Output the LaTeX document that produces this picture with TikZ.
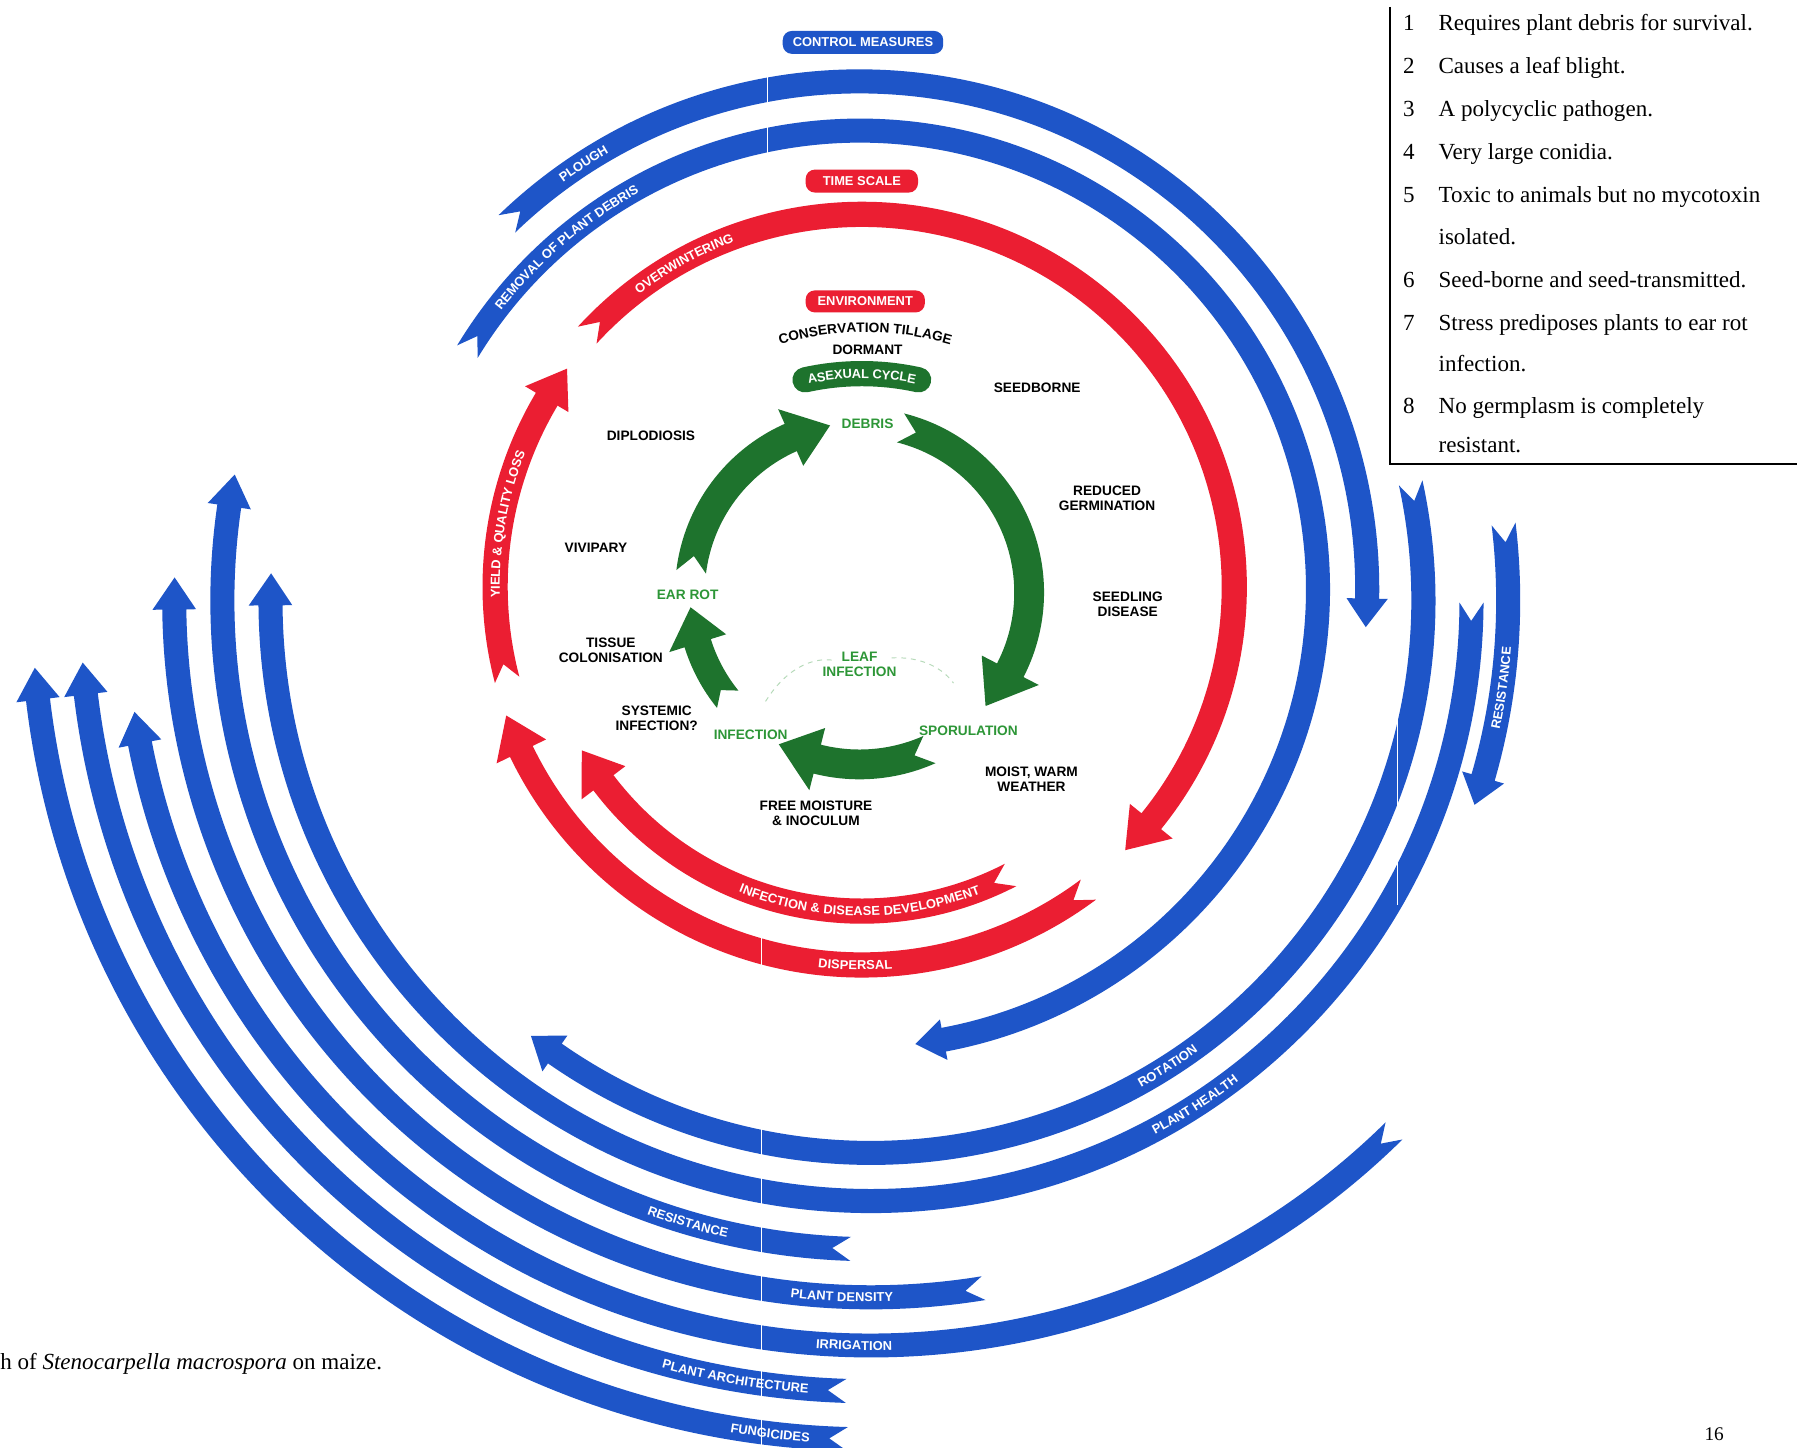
\documentclass[tikz,border=0pt]{standalone}
\usepackage{fontspec}
\setmainfont{Liberation Serif}
\newfontfamily\labfont{Liberation Sans}
\usetikzlibrary{decorations.text}
\definecolor{bblue}{RGB}{30,85,200}
\definecolor{rred}{RGB}{235,30,50}
\definecolor{ggreen}{RGB}{30,115,45}
\definecolor{gtext}{RGB}{45,150,55}
\newcommand{\bandfont}{\labfont\bfseries\fontsize{8}{8}\selectfont\color{white}}
% #1 colour, #2 centre, #3 radius, #4 width, #5 tail angle, #6 head angle, #7 head length, #8 head half-width, #9 notch depth
\newcommand{\Ribbon}[9]{%
 \pgfmathsetmacro{\RBs}{(#6>#5)?1:-1}%
 \pgfmathsetmacro{\RBhb}{#6-\RBs*#7/#3*57.29578}%
 \pgfmathsetmacro{\RBnt}{#5+\RBs*#9/#3*57.29578}%
 \pgfmathsetmacro{\RBo}{#3+#4/2}%
 \pgfmathsetmacro{\RBi}{#3-#4/2}%
 \pgfmathsetmacro{\RBho}{#3+#8}%
 \pgfmathsetmacro{\RBhi}{#3-#8}%
 \fill[#1, shift={(#2)}] (#5:\RBo) arc[start angle=#5, end angle=\RBhb, radius=\RBo]
   -- (\RBhb:\RBho) -- (#6:#3) -- (\RBhb:\RBhi) -- (\RBhb:\RBi)
   arc[start angle=\RBhb, end angle=#5, radius=\RBi] -- (\RBnt:#3) -- cycle;%
}
% #1 centre, #2 radius, #3 mid angle, #4 half span, #5 direction, #6 text
\newcommand{\BandText}[6]{%
 \pgfmathsetmacro{\BTa}{#3-#5*#4}%
 \pgfmathsetmacro{\BTb}{#3+#5*#4}%
 \path[shift={(#1)}, decorate, decoration={text along path, text align=center, raise=-2.9pt, text={|\bandfont|#6}}]
   (\BTa:#2) arc[start angle=\BTa, end angle=\BTb, radius=#2];%
}
\begin{document}
\begin{tikzpicture}[x=0.025cm, y=0.025cm,
  lbl/.style={font=\labfont\bfseries\fontsize{8.5}{9.3}\selectfont, align=center, inner sep=0pt},
  glbl/.style={lbl, text=gtext},
  tagbox/.style={rounded corners=0.2cm, font=\labfont\bfseries\fontsize{8}{8}\selectfont, text=white, minimum height=0.5cm, inner xsep=0.2cm, inner ysep=0pt},
  legtxt/.style={font=\fontsize{14.3}{16}\selectfont, anchor=base west, inner sep=0pt},
  seam/.style={white, line width=0.5pt}]
\useasboundingbox (0,0) rectangle (1568,-1263);
\fill[white] (0,0) rectangle (1568,-1263);

% ---------- blue ribbons (control measures) ----------
\Ribbon{bblue}{750,-514}{400}{21}{148.8}{-83}{25}{18}{16}
\Ribbon{bblue}{750,-514}{443}{21}{134}{-4.3}{25}{18}{16}
\Ribbon{bblue}{760,-524}{482}{21}{12.3}{-128}{26}{19}{16}
\Ribbon{bblue}{760,-524}{524}{21}{-0.2}{-182.6}{28}{19}{16}
\Ribbon{bblue}{760,-524}{556}{21}{6.9}{-18.7}{25}{19}{16}
\Ribbon{bblue}{760,-524}{566}{21}{-91.8}{-191.2}{28}{19}{16}
\Ribbon{bblue}{760,-524}{608}{21}{-80.7}{-181.9}{28}{19}{16}
\Ribbon{bblue}{760,-524}{650}{21}{-45.4}{-171.4}{28}{19}{16}
\Ribbon{bblue}{760,-524}{690}{21}{-91.8}{-175.5}{28}{19}{16}
\Ribbon{bblue}{760,-524}{732}{21}{-91.6}{-175.4}{28}{19}{16}

% ---------- red ribbons (time scale) ----------
\Ribbon{rred}{752,-512}{325}{22}{137.5}{-45}{34}{24}{16}
\Ribbon{rred}{752,-512}{320}{22}{194.7}{143.5}{32}{22}{14}
\Ribbon{rred}{752,-512}{283}{22}{-62.7}{-149.7}{34}{24}{16}
\Ribbon{rred}{752,-512}{330}{22}{-53.2}{-160.1}{34}{24}{16}

% printing seams
\draw[seam] (670,-55) -- (670,-150);
\draw[seam] (664,-800) -- (664,-1263);
\draw[seam] (1219,-545) -- (1219,-790);

% ---------- texts on the ribbons ----------
\BandText{750,-514}{443}{123}{15}{-1}{PLOUGH}
\BandText{750,-514}{400}{130.6}{18}{-1}{REMOVAL OF PLANT DEBRIS}
\BandText{760,-524}{482}{-57.5}{10}{1}{ROTATION}
\BandText{760,-524}{524}{-57.3}{10}{1}{PLANT HEALTH}
\BandText{760,-524}{556}{-7.9}{8}{1}{RESISTANCE}
\BandText{760,-524}{566}{-106.4}{10}{1}{RESISTANCE}
\BandText{760,-524}{608}{-92.4}{10}{1}{PLANT DENSITY}
\BandText{760,-524}{650}{-91.3}{8}{1}{IRRIGATION}
\BandText{760,-524}{690}{-99.9}{10}{1}{PLANT ARCHITECTURE}
\BandText{760,-524}{732}{-96.9}{7}{1}{FUNGICIDES}

\BandText{752,-512}{325}{118.8}{14}{-1}{OVERWINTERING}
\BandText{752,-512}{320}{170}{16}{-1}{YIELD {\&} QUALITY LOSS}
\BandText{752,-512}{283}{-90.4}{28}{1}{INFECTION {\&} DISEASE DEVELOPMENT}
\BandText{752,-512}{330}{-91}{8}{1}{DISPERSAL}

% ---------- green ribbons (asexual cycle) ----------
\Ribbon{ggreen}{750,-517}{148}{26}{173}{100}{36}{27}{14}
\Ribbon{ggreen}{750,-517}{148}{26}{76}{-42}{38}{28}{14}
\Ribbon{ggreen}{750,-517}{150}{26}{-66}{-118}{36}{28}{14}
\Ribbon{ggreen}{750,-517}{148}{24}{-141}{-175}{32}{26}{10}

% faint leaf infection path
\draw[gtext!35, dashed, line width=0.6pt] (668,-612) .. controls (688,-580) and (712,-574) .. (726,-576);
\draw[gtext!35, dashed, line width=0.6pt] (778,-574) .. controls (800,-573) and (820,-580) .. (832,-596);

% ---------- tags ----------
\node[tagbox, fill=bblue, minimum width=3.5cm] (cm) at (753,-37) {CONTROL MEASURES};
\node[tagbox, fill=rred, minimum width=2.45cm] (ts) at (752,-158) {TIME SCALE};
\node[tagbox, fill=rred, minimum width=2.6cm, minimum height=0.48cm] (env) at (755,-263) {ENVIRONMENT};
\draw[ggreen, line width=0.55cm, line cap=round] (752,-555) ++(102.5:229) arc[start angle=102.5, end angle=77.5, radius=229];
\path[decorate, decoration={text along path, text align=center, raise=-2.9pt, text={|\bandfont|ASEXUAL CYCLE}}]
  (752,-555) ++(106:229) arc[start angle=106, end angle=74, radius=229];
\path[decorate, decoration={text along path, text align=center, text={|\labfont\bfseries\fontsize{8.5}{8.5}\selectfont|CONSERVATION TILLAGE}}]
  (755,-555) ++(108:265) arc[start angle=108, end angle=72, radius=265];

% ---------- labels ----------
\node[lbl] (dormant) at (757,-305) {DORMANT};
\node[glbl] (debris) at (757,-370) {DEBRIS};
\node[lbl] (seedborne) at (905,-338) {SEEDBORNE};
\node[lbl] (diplo) at (568,-380) {DIPLODIOSIS};
\node[lbl] (reduced) at (966,-435) {REDUCED\\GERMINATION};
\node[lbl] (vivi) at (520,-478) {VIVIPARY};
\node[lbl] (seedling) at (984,-527) {SEEDLING\\DISEASE};
\node[glbl] (earrot) at (600,-519) {EAR ROT};
\node[lbl] (tissue) at (533,-567) {TISSUE\\COLONISATION};
\node[glbl] (leaf) at (750,-580) {LEAF\\INFECTION};
\node[lbl] (systemic) at (573,-627) {SYSTEMIC\\INFECTION?};
\node[glbl] (infection) at (655,-641) {INFECTION};
\node[glbl] (sporu) at (845,-638) {SPORULATION};
\node[lbl] (moist) at (900,-680) {MOIST, WARM\\WEATHER};
\node[lbl] (free) at (712,-710) {FREE MOISTURE\\\& INOCULUM};

% ---------- legend ----------
\draw[line width=1.2pt] (1213,-6) -- (1213,-405) -- (1568,-405);
\node[legtxt] (n1) at (1224,-27) {1};
\node[legtxt] (t1) at (1255,-27) {Requires plant debris for survival.};
\node[legtxt] (n2) at (1224,-64) {2};
\node[legtxt] (t2) at (1255,-64) {Causes a leaf blight.};
\node[legtxt] (n3) at (1224,-102) {3};
\node[legtxt] (t3) at (1255,-102) {A polycyclic pathogen.};
\node[legtxt] (n4) at (1224,-139) {4};
\node[legtxt] (t4) at (1255,-139) {Very large conidia.};
\node[legtxt] (n5) at (1224,-177) {5};
\node[legtxt] (t5) at (1255,-177) {Toxic to animals but no mycotoxin};
\node[legtxt] (t5b) at (1255,-213) {isolated.};
\node[legtxt] (n6) at (1224,-251) {6};
\node[legtxt] (t6) at (1255,-251) {Seed-borne and seed-transmitted.};
\node[legtxt] (n7) at (1224,-288) {7};
\node[legtxt] (t7) at (1255,-288) {Stress prediposes plants to ear rot};
\node[legtxt] (t7b) at (1255,-324) {infection.};
\node[legtxt] (n8) at (1224,-361) {8};
\node[legtxt] (t8) at (1255,-361) {No germplasm is completely};
\node[legtxt] (t8b) at (1255,-395) {resistant.};

\node[legtxt] (cap) at (0,-1195) {h of \textit{Stenocarpella macrospora} on maize.};
\node[legtxt, font=\fontsize{12}{14}\selectfont] (pg) at (1487,-1257) {16};
\end{tikzpicture}
\end{document}
